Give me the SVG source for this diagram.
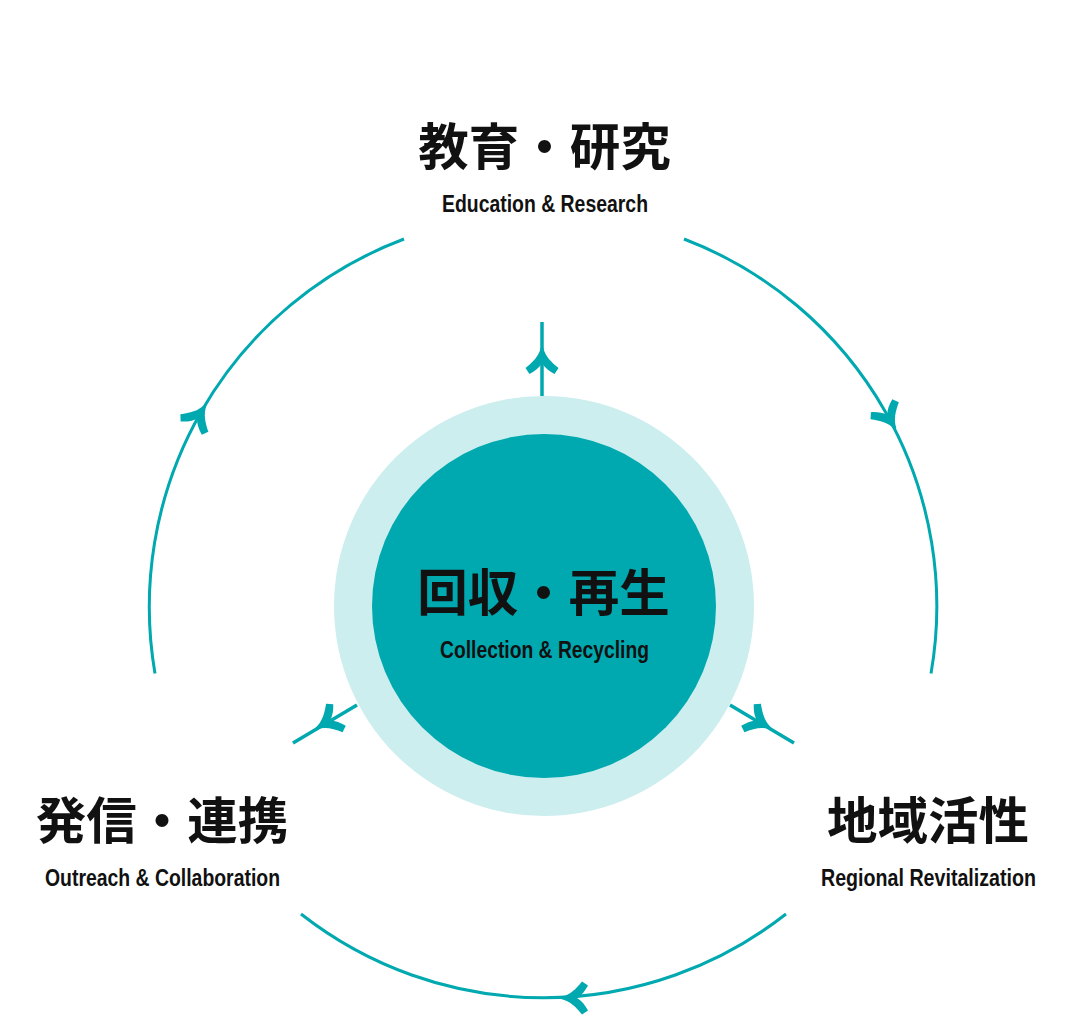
<svg xmlns="http://www.w3.org/2000/svg" width="1088" height="1016" viewBox="0 0 1088 1016">
<style>
.ln{fill:none;stroke:#00a8af;stroke-width:3}
.rd{fill:none;stroke:#00a8af;stroke-width:3.500}
.hd{fill:#00a8af;stroke:none}
.jp{font-family:"Noto Sans CJK JP","Noto Sans CJK SC",sans-serif;font-weight:700;font-size:50.500px;fill:#111;text-anchor:middle}
.en{font-family:"Liberation Sans",Arial,sans-serif;font-weight:700;font-size:23px;fill:#111;text-anchor:start}
</style>
<defs>
<path id="head" class="hd" d="M-1 -1 L1 -1 C3 8 9 14 16.500 20 L12.500 26 C7 23 3 20 0 15 C-3 20 -7 23 -12.500 26 L-16.500 20 C-9 14 -3 8 -1 -1Z"/>
</defs>
<rect width="1088" height="1016" fill="#fff"/>
<g id="connectors">
<path class="ln" d="M404 239 A393 393 0 0 0 155 673.500"/>
<path class="ln" d="M684 239 A393 393 0 0 1 931 673.500"/>
<path class="ln" d="M786 914 A393 393 0 0 1 301 914"/>
<path class="rd" d="M542 322 V396"/>
<path class="rd" d="M357 705 L293 743"/>
<path class="rd" d="M730 705 L794 743"/>
<use href="#head" transform="translate(542 348)"/>
<use href="#head" transform="translate(317 728) rotate(-120)"/>
<use href="#head" transform="translate(770 728) rotate(120)"/>
<use href="#head" transform="translate(562 998) rotate(-90)"/>
<use href="#head" transform="translate(205 406) rotate(32)"/>
<use href="#head" transform="translate(895 428) rotate(149)"/>
</g>
<g id="node-center">
<circle cx="544" cy="606" r="210" fill="#cceeee"/>
<circle cx="544" cy="606" r="172" fill="#00a8af"/>
<text class="jp" x="543.500" y="611">回収・再生</text>
<text class="en" x="440" y="658" textLength="209" lengthAdjust="spacingAndGlyphs">Collection &amp; Recycling</text>
</g>
<g id="node-top">
<text class="jp" x="544.500" y="165">教育・研究</text>
<text class="en" x="442" y="212" textLength="206" lengthAdjust="spacingAndGlyphs">Education &amp; Research</text>
</g>
<g id="node-left">
<text class="jp" x="162" y="839">発信・連携</text>
<text class="en" x="45" y="886" textLength="235" lengthAdjust="spacingAndGlyphs">Outreach &amp; Collaboration</text>
</g>
<g id="node-right">
<text class="jp" x="928" y="839">地域活性</text>
<text class="en" x="821" y="886" textLength="215" lengthAdjust="spacingAndGlyphs">Regional Revitalization</text>
</g>
</svg>
